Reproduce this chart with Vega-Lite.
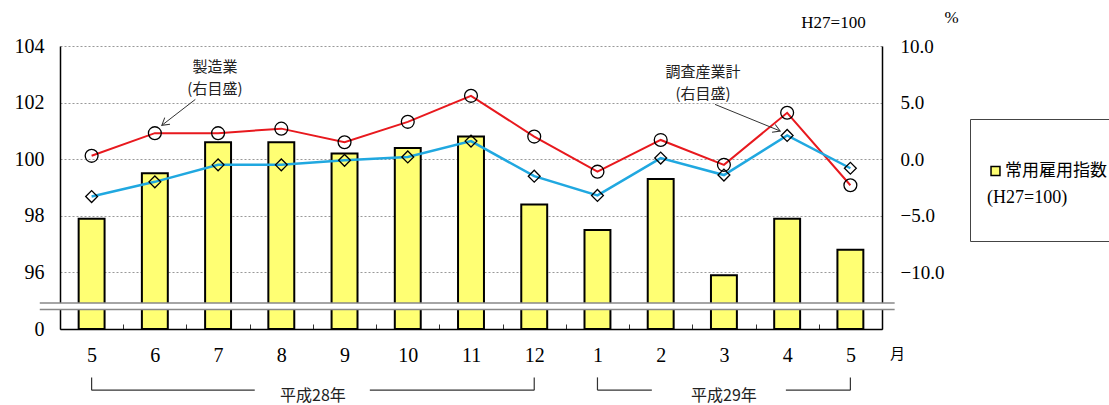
{
  "$schema": "https://vega.github.io/schema/vega-lite/v6.json",
  "width": 822,
  "height": 283,
  "autosize": {"type": "none"},
  "padding": {"left": 60, "top": 46, "right": 227, "bottom": 76},
  "background": "white",
  "config": {"view": {"stroke": null}, "font": "Liberation Serif"},
  "datasets": {
    "rows": [
      {"m": "28-5", "idx": 97.9, "mfg": 0.3, "all": -3.3},
      {"m": "28-6", "idx": 99.5, "mfg": 2.3, "all": -2.0},
      {"m": "28-7", "idx": 100.6, "mfg": 2.3, "all": -0.5},
      {"m": "28-8", "idx": 100.6, "mfg": 2.7, "all": -0.5},
      {"m": "28-9", "idx": 100.2, "mfg": 1.5, "all": -0.1},
      {"m": "28-10", "idx": 100.4, "mfg": 3.3, "all": 0.2},
      {"m": "28-11", "idx": 100.8, "mfg": 5.6, "all": 1.6},
      {"m": "28-12", "idx": 98.4, "mfg": 2.0, "all": -1.5},
      {"m": "29-1", "idx": 97.5, "mfg": -1.1, "all": -3.2},
      {"m": "29-2", "idx": 99.3, "mfg": 1.7, "all": 0.1},
      {"m": "29-3", "idx": 95.9, "mfg": -0.5, "all": -1.4},
      {"m": "29-4", "idx": 97.9, "mfg": 4.1, "all": 2.1},
      {"m": "29-5", "idx": 96.8, "mfg": -2.3, "all": -0.8}
    ],
    "ends": [{"m": "28-5"}, {"m": "28-12"}, {"m": "29-1"}, {"m": "29-5"}],
    "one": [{}]
  },
  "resolve": {"scale": {"y": "independent"}},
  "layer": [
    {
      "layer": [
        {
          "data": {"name": "rows"},
          "mark": {"type": "bar", "width": {"band": 0.41}, "stroke": "black", "strokeWidth": 2},
          "encoding": {
            "x": {
              "field": "m", "type": "ordinal",
              "scale": {"domain": ["28-5","28-6","28-7","28-8","28-9","28-10","28-11","28-12","29-1","29-2","29-3","29-4","29-5"], "paddingInner": 0, "paddingOuter": 0},
              "axis": {
                "title": "月", "titleFont": "Noto Sans CJK JP", "titleFontSize": 15, "titleFontWeight": "normal",
                "titleAngle": 0, "titleX": 837, "titleY": 24, "titleAlign": "center", "titleBaseline": "middle",
                "labelExpr": "split(datum.value, '-')[1]", "labelAngle": 0, "labelFontSize": 20, "labelColor": "black",
                "labelBaseline": "middle", "labelPadding": 31,
                "domainColor": "black", "domainWidth": 1.5,
                "tickBand": "extent", "tickSize": -5, "tickColor": "#333", "tickWidth": 1, "grid": false
              }
            },
            "y": {
              "field": "idx", "type": "quantitative",
              "scale": {"domain": [94, 104], "nice": false, "zero": false},
              "axis": {
                "title": "H27=100", "titleAngle": 0, "titleX": 773, "titleY": -24, "titleAlign": "center",
                "titleBaseline": "middle", "titleFontSize": 17, "titleFontWeight": "normal",
                "values": [94, 96, 98, 100, 102, 104],
                "labelExpr": "datum.value == 94 ? '0' : datum.label",
                "labelFontSize": 20, "labelColor": "black", "labelPadding": 16, "ticks": false,
                "domainColor": "black", "domainWidth": 1.5,
                "grid": true, "gridDash": [2, 2], "gridColor": "#999", "gridWidth": 1
              }
            },
            "y2": {"datum": 94},
            "color": {
              "datum": "常用雇用指数", "type": "nominal",
              "scale": {"range": ["#ffff73"]},
              "legend": {
                "orient": "none", "legendX": 910, "legendY": 73,
                "title": ["(H27=100)", " "], "titleOrient": "bottom", "titleAnchor": "start", "titleBaseline": "top",
                "titleFont": "Liberation Serif", "titleFontSize": 18, "titleFontWeight": "normal", "titleColor": "black",
                "titleLineHeight": 17, "titlePadding": -17,
                "strokeColor": "#444", "fillColor": "white", "padding": 17, "clipHeight": 70,
                "labelFont": "Noto Sans CJK JP", "labelFontSize": 17, "labelColor": "black",
                "labelLimit": 300, "labelOffset": 1,
                "symbolType": "square", "symbolSize": 80, "symbolStrokeColor": "black", "symbolStrokeWidth": 1.5
              }
            }
          }
        },
        {
          "data": {"name": "one"},
          "mark": {"type": "rect", "fill": "white"},
          "encoding": {
            "x": {"datum": "28-5", "type": "ordinal", "bandPosition": -0.32},
            "x2": {"datum": "29-5", "bandPosition": 1.2},
            "y": {"datum": 94.92},
            "y2": {"datum": 94.69}
          }
        },
        {
          "data": {"name": "one"},
          "mark": {"type": "rule", "stroke": "#888", "strokeWidth": 1.5},
          "encoding": {
            "x": {"datum": "28-5", "type": "ordinal", "bandPosition": -0.32},
            "x2": {"datum": "29-5", "bandPosition": 1.2},
            "y": {"datum": 94.92}
          }
        },
        {
          "data": {"name": "one"},
          "mark": {"type": "rule", "stroke": "#888", "strokeWidth": 1.5},
          "encoding": {
            "x": {"datum": "28-5", "type": "ordinal", "bandPosition": -0.32},
            "x2": {"datum": "29-5", "bandPosition": 1.2},
            "y": {"datum": 94.69}
          }
        },
        {
          "data": {"name": "ends"},
          "mark": {"type": "rule", "stroke": "#333", "strokeWidth": 1.2},
          "encoding": {
            "x": {"field": "m", "type": "ordinal"},
            "y": {"datum": 92.29},
            "y2": {"datum": 91.84}
          }
        },
        {
          "data": {"name": "one"},
          "mark": {"type": "rule", "stroke": "#333", "strokeWidth": 1.2},
          "encoding": {
            "x": {"datum": "28-5", "type": "ordinal", "bandPosition": 0.5},
            "x2": {"datum": "28-7", "bandPosition": 1.08},
            "y": {"datum": 91.84}
          }
        },
        {
          "data": {"name": "one"},
          "mark": {"type": "rule", "stroke": "#333", "strokeWidth": 1.2},
          "encoding": {
            "x": {"datum": "28-9", "type": "ordinal", "bandPosition": 0.9},
            "x2": {"datum": "28-12", "bandPosition": 0.5},
            "y": {"datum": 91.84}
          }
        },
        {
          "data": {"name": "one"},
          "mark": {"type": "rule", "stroke": "#333", "strokeWidth": 1.2},
          "encoding": {
            "x": {"datum": "29-1", "type": "ordinal", "bandPosition": 0.5},
            "x2": {"datum": "29-2", "bandPosition": 0.36},
            "y": {"datum": 91.84}
          }
        },
        {
          "data": {"name": "one"},
          "mark": {"type": "rule", "stroke": "#333", "strokeWidth": 1.2},
          "encoding": {
            "x": {"datum": "29-4", "type": "ordinal", "bandPosition": 0.48},
            "x2": {"datum": "29-5", "bandPosition": 0.5},
            "y": {"datum": 91.84}
          }
        },
        {
          "data": {"name": "one"},
          "mark": {"type": "text", "text": "平成28年", "font": "Noto Sans CJK JP", "fontSize": 16, "baseline": "middle", "align": "center", "color": "#222"},
          "encoding": {
            "x": {"datum": "28-8", "type": "ordinal", "bandPosition": 1},
            "y": {"datum": 91.65}
          }
        },
        {
          "data": {"name": "one"},
          "mark": {"type": "text", "text": "平成29年", "font": "Noto Sans CJK JP", "fontSize": 16, "baseline": "middle", "align": "center", "color": "#222"},
          "encoding": {
            "x": {"datum": "29-3", "type": "ordinal", "bandPosition": 0.5},
            "y": {"datum": 91.65}
          }
        }
      ]
    },
    {
      "layer": [
        {
          "data": {"name": "rows"},
          "mark": {"type": "line", "color": "#e8191e", "strokeWidth": 2},
          "encoding": {
            "x": {"field": "m", "type": "ordinal"},
            "y": {
              "field": "mfg", "type": "quantitative",
              "scale": {"domain": [-15, 10], "nice": false, "zero": false},
              "axis": {
                "orient": "right", "title": "%", "titleAngle": 0, "titleX": 69, "titleY": -29,
                "titleAlign": "center", "titleBaseline": "middle", "titleFontSize": 17, "titleFontWeight": "normal",
                "values": [-10, -5, 0, 5, 10], "format": ".1f",
                "labelFontSize": 19, "labelColor": "black", "labelPadding": 18, "ticks": false,
                "domainColor": "black", "domainWidth": 1.5, "grid": false
              }
            },
            "order": {"value": null}
          }
        },
        {
          "data": {"name": "rows"},
          "mark": {"type": "line", "color": "#20a8e0", "strokeWidth": 2.5},
          "encoding": {
            "x": {"field": "m", "type": "ordinal"},
            "y": {"field": "all", "type": "quantitative"},
            "order": {"value": null}
          }
        },
        {
          "data": {"name": "rows"},
          "mark": {"type": "point", "shape": "circle", "size": 165, "filled": false, "stroke": "black", "strokeWidth": 1.3, "opacity": 1},
          "encoding": {
            "x": {"field": "m", "type": "ordinal"},
            "y": {"field": "mfg", "type": "quantitative"}
          }
        },
        {
          "data": {"name": "rows"},
          "mark": {"type": "point", "shape": "diamond", "size": 140, "filled": false, "stroke": "black", "strokeWidth": 1.3, "opacity": 1},
          "encoding": {
            "x": {"field": "m", "type": "ordinal"},
            "y": {"field": "all", "type": "quantitative"}
          }
        },
        {
          "data": {"name": "one"},
          "mark": {"type": "text", "text": "製造業", "font": "Noto Sans CJK JP", "fontSize": 15, "baseline": "middle", "align": "center", "color": "#222"},
          "encoding": {
            "x": {"datum": "28-7", "type": "ordinal", "bandPosition": 0.45},
            "y": {"datum": 8.12}
          }
        },
        {
          "data": {"name": "one"},
          "mark": {"type": "text", "text": "(右目盛)", "font": "Noto Sans CJK JP", "fontSize": 15, "baseline": "middle", "align": "center", "color": "#222"},
          "encoding": {
            "x": {"datum": "28-7", "type": "ordinal", "bandPosition": 0.45},
            "y": {"datum": 6.2}
          }
        },
        {
          "data": {"name": "one"},
          "mark": {"type": "text", "text": "調査産業計", "font": "Noto Sans CJK JP", "fontSize": 15, "baseline": "middle", "align": "center", "color": "#222"},
          "encoding": {
            "x": {"datum": "29-3", "type": "ordinal", "bandPosition": 0.17},
            "y": {"datum": 7.68}
          }
        },
        {
          "data": {"name": "one"},
          "mark": {"type": "text", "text": "(右目盛)", "font": "Noto Sans CJK JP", "fontSize": 15, "baseline": "middle", "align": "center", "color": "#222"},
          "encoding": {
            "x": {"datum": "29-3", "type": "ordinal", "bandPosition": 0.17},
            "y": {"datum": 5.76}
          }
        },
        {
          "data": {"name": "one"},
          "mark": {"type": "rule", "stroke": "#333", "strokeWidth": 1},
          "encoding": {
            "x": {"datum": "28-7", "type": "ordinal", "bandPosition": 0.14},
            "y": {"datum": 5.28},
            "x2": {"datum": "28-6", "bandPosition": 0.61},
            "y2": {"datum": 2.99}
          }
        },
        {
          "data": {"name": "one"},
          "mark": {"type": "point", "shape": "M-1,-0.6L0,0L-1,0.6", "size": 200, "filled": false, "stroke": "#333", "strokeWidth": 1, "angle": 142, "opacity": 1},
          "encoding": {
            "x": {"datum": "28-6", "type": "ordinal", "bandPosition": 0.61},
            "y": {"datum": 2.99}
          }
        },
        {
          "data": {"name": "one"},
          "mark": {"type": "rule", "stroke": "#333", "strokeWidth": 1},
          "encoding": {
            "x": {"datum": "29-3", "type": "ordinal", "bandPosition": 0.36},
            "y": {"datum": 4.84},
            "x2": {"datum": "29-4", "bandPosition": 0.39},
            "y2": {"datum": 2.49}
          }
        },
        {
          "data": {"name": "one"},
          "mark": {"type": "point", "shape": "M-1,-0.6L0,0L-1,0.6", "size": 200, "filled": false, "stroke": "#333", "strokeWidth": 1, "angle": 22, "opacity": 1},
          "encoding": {
            "x": {"datum": "29-4", "type": "ordinal", "bandPosition": 0.39},
            "y": {"datum": 2.49}
          }
        }
      ]
    }
  ]
}
